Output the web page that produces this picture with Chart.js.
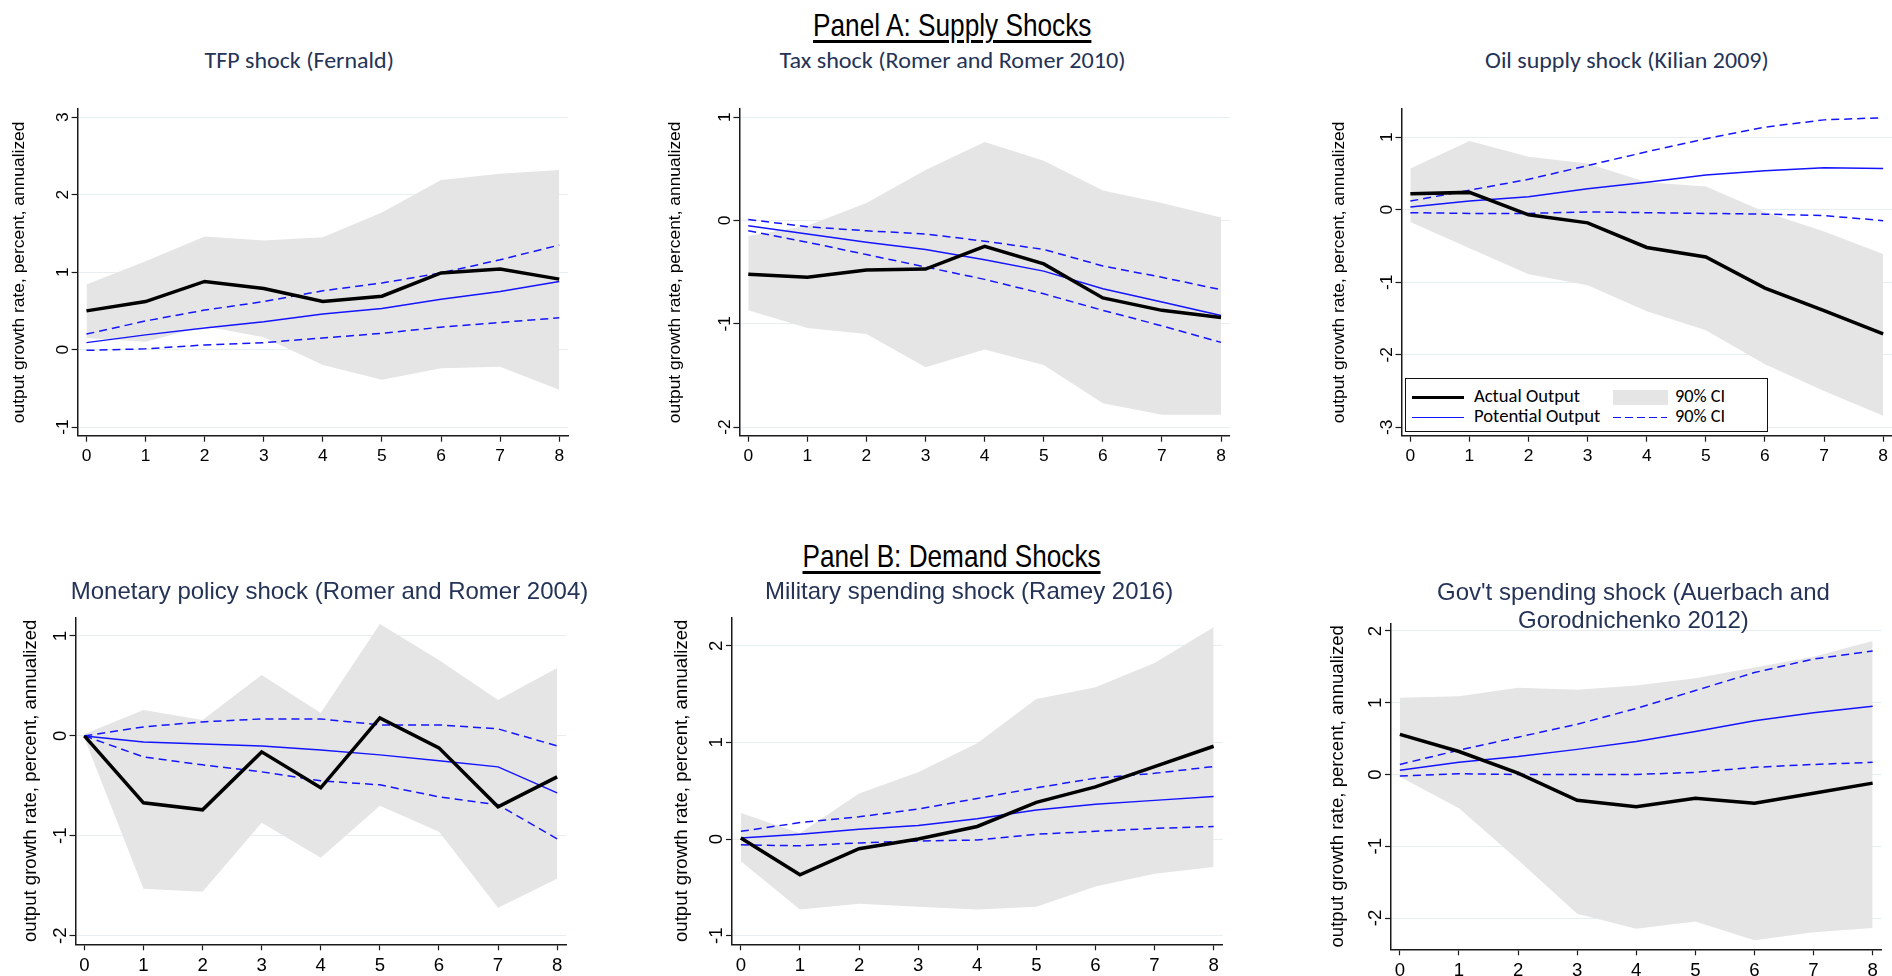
<!DOCTYPE html>
<html>
<head>
<meta charset="utf-8">
<script src="https://cdn.jsdelivr.net/npm/chart.js@4.4.1/dist/chart.umd.min.js"></script>
<style>
html,body{margin:0;padding:0;background:#fff}
body{position:relative;width:1892px;height:976px;overflow:hidden}
canvas{position:absolute}
.txt{position:absolute;white-space:nowrap;line-height:1.2}
#legend{position:absolute;left:1405px;top:378px;width:363px;height:54px;box-sizing:border-box;border:1.5px solid #111;background:#fff}
#legend div{position:absolute}
</style>
</head>
<body>
<script>
// horizons (quarters after the shock)
const horizon=[0,1,2,3,4,5,6,7,8];

// TFP shock (Fernald)
const tfpActual=[0.50,0.62,0.88,0.79,0.62,0.69,0.99,1.04,0.91];
const tfpPotential=[0.09,0.19,0.28,0.36,0.46,0.53,0.65,0.75,0.88];
const tfpCiHi=[0.20,0.37,0.51,0.62,0.76,0.86,0.99,1.16,1.35];
const tfpCiLo=[-0.01,0.01,0.06,0.09,0.15,0.21,0.29,0.35,0.41];
const tfpBandHi=[0.84,1.14,1.46,1.41,1.45,1.77,2.19,2.27,2.32];
const tfpBandLo=[0.15,0.10,0.30,0.16,-0.20,-0.39,-0.24,-0.22,-0.52];
const tfpTicks=[-1,0,1,2,3];

// Tax shock (Romer and Romer 2010)
const taxActual=[-0.52,-0.55,-0.48,-0.47,-0.25,-0.42,-0.75,-0.87,-0.94];
const taxPotential=[-0.05,-0.13,-0.21,-0.28,-0.38,-0.49,-0.66,-0.79,-0.92];
const taxCiHi=[0.01,-0.06,-0.10,-0.13,-0.20,-0.28,-0.44,-0.55,-0.67];
const taxCiLo=[-0.10,-0.21,-0.33,-0.45,-0.57,-0.71,-0.87,-1.02,-1.18];
const taxBandHi=[-0.15,-0.05,0.17,0.49,0.76,0.58,0.29,0.17,0.03];
const taxBandLo=[-0.87,-1.04,-1.10,-1.42,-1.25,-1.40,-1.77,-1.88,-1.88];
const taxTicks=[-2,-1,0,1];

// Oil supply shock (Kilian 2009)
const oilActual=[0.22,0.24,-0.07,-0.18,-0.52,-0.65,-1.08,-1.39,-1.71];
const oilPotential=[0.04,0.12,0.18,0.29,0.38,0.48,0.54,0.58,0.57];
const oilCiHi=[0.12,0.27,0.42,0.61,0.80,0.98,1.14,1.24,1.27];
const oilCiLo=[-0.04,-0.05,-0.05,-0.03,-0.04,-0.05,-0.06,-0.08,-0.15];
const oilBandHi=[0.57,0.95,0.73,0.64,0.38,0.32,-0.03,-0.30,-0.61];
const oilBandLo=[-0.17,-0.53,-0.89,-1.04,-1.40,-1.66,-2.13,-2.50,-2.84];
const oilTicks=[-3,-2,-1,0,1];

// Monetary policy shock (Romer and Romer 2004)
const monActual=[0,-0.67,-0.74,-0.16,-0.52,0.18,-0.12,-0.71,-0.41];
const monPotential=[0,-0.06,-0.08,-0.10,-0.14,-0.19,-0.25,-0.31,-0.57];
const monCiHi=[0,0.09,0.14,0.17,0.17,0.11,0.11,0.07,-0.10];
const monCiLo=[0,-0.21,-0.29,-0.36,-0.45,-0.49,-0.61,-0.69,-1.03];
const monBandHi=[0.02,0.26,0.16,0.61,0.23,1.12,0.76,0.36,0.68];
const monBandLo=[-0.02,-1.53,-1.56,-0.87,-1.22,-0.70,-0.96,-1.72,-1.43];
const monTicks=[-2,-1,0,1];

// Military spending shock (Ramey 2016)
const milActual=[0.01,-0.37,-0.10,0.00,0.13,0.38,0.54,0.75,0.96];
const milPotential=[0.01,0.05,0.10,0.14,0.21,0.30,0.36,0.40,0.44];
const milCiHi=[0.08,0.17,0.23,0.31,0.42,0.53,0.63,0.68,0.75];
const milCiLo=[-0.06,-0.07,-0.04,-0.02,-0.01,0.05,0.08,0.11,0.13];
const milBandHi=[0.27,0.06,0.47,0.69,0.99,1.45,1.57,1.82,2.19];
const milBandLo=[-0.23,-0.73,-0.67,-0.70,-0.73,-0.70,-0.49,-0.36,-0.29];
const milTicks=[-1,0,1,2];

// Gov't spending shock (Auerbach and Gorodnichenko 2012)
const govActual=[0.56,0.32,0.02,-0.36,-0.45,-0.33,-0.40,-0.26,-0.12];
const govPotential=[0.06,0.17,0.25,0.35,0.46,0.60,0.75,0.86,0.95];
const govCiHi=[0.14,0.34,0.52,0.70,0.92,1.17,1.42,1.61,1.72];
const govCiLo=[-0.02,0.01,0.00,0.00,0.00,0.03,0.10,0.14,0.17];
const govBandHi=[1.07,1.09,1.21,1.18,1.24,1.34,1.49,1.64,1.86];
const govBandLo=[-0.03,-0.47,-1.19,-1.94,-2.15,-2.05,-2.31,-2.20,-2.14];
const govTicks=[-2,-1,0,1,2];

const titles=['TFP shock (Fernald)','Tax shock (Romer and Romer 2010)','Oil supply shock (Kilian 2009)',
 'Monetary policy shock (Romer and Romer 2004)','Military spending shock (Ramey 2016)',
 ["Gov't spending shock (Auerbach and",'Gorodnichenko 2012)']];
const panelHeads=['Panel A: Supply Shocks','Panel B: Demand Shocks'];
const legendLabels=['Actual Output','Potential Output','90% CI','90% CI'];
const yTitle='output growth rate, percent, annualized';

const BLUE='#1414ff', GRAY='#e5e5e5', AXIS='#1a1a1a', GRID='#e7eef1', NAVY='#243356';
const ARIAL="'Liberation Sans', Arial, sans-serif";
const NARROW="'Liberation Sans Narrow','Arial Narrow','Liberation Sans',sans-serif";
const CAL="Carlito, Lato, 'Open Sans', sans-serif";

const panels=[
 {actual:tfpActual,potential:tfpPotential,ciHi:tfpCiHi,ciLo:tfpCiLo,bandHi:tfpBandHi,bandLo:tfpBandLo,ticks:tfpTicks,
  yMin:-1.112,yMax:3.107,left:77.6,top:109,bottom:435.7,titleOff:58,font:17.4},
 {actual:taxActual,potential:taxPotential,ciHi:taxCiHi,ciLo:taxCiLo,bandHi:taxBandHi,bandLo:taxBandLo,ticks:taxTicks,
  yMin:-2.084,yMax:1.08,left:739.4,top:109,bottom:435.7,titleOff:63.7,font:17.4},
 {actual:oilActual,potential:oilPotential,ciHi:oilCiHi,ciLo:oilCiLo,bandHi:oilBandHi,bandLo:oilBandLo,ticks:oilTicks,
  yMin:-3.116,yMax:1.39,left:1401.5,top:109,bottom:435.7,titleOff:62.5,font:17.4},
 {actual:monActual,potential:monPotential,ciHi:monCiHi,ciLo:monCiLo,bandHi:monBandHi,bandLo:monBandLo,ticks:monTicks,
  yMin:-2.086,yMax:1.187,left:75.5,top:617.3,bottom:944.3,titleOff:43.7,font:18.6},
 {actual:milActual,potential:milPotential,ciHi:milCiHi,ciLo:milCiLo,bandHi:milBandHi,bandLo:milBandLo,ticks:milTicks,
  yMin:-1.089,yMax:2.294,left:732,top:617.3,bottom:944.3,titleOff:49.8,font:18.6},
 {actual:govActual,potential:govPotential,ciHi:govCiHi,ciLo:govCiLo,bandHi:govBandHi,bandLo:govBandLo,ticks:govTicks,
  yMin:-2.436,yMax:2.107,left:1391,top:623.3,bottom:949.3,titleOff:52.4,font:18.6}
];
const PLOT_W=490.5, X_MIN=-0.15, X_MAX=8.15;

const pts=a=>a.map((v,i)=>({x:horizon[i],y:v}));

function makeChart(p){
 const cv=document.createElement('canvas');
 const cl=Math.floor(p.left-p.titleOff-14);
 const ct=Math.floor(p.top-15);
 const right=p.left+PLOT_W;
 const cw=Math.ceil(right+15-cl);
 const ch=Math.ceil(p.bottom+40-ct);
 cv.width=cw;cv.height=ch;
 cv.style.left=cl+'px';cv.style.top=ct+'px';
 cv.style.width=cw+'px';cv.style.height=ch+'px';
 document.body.appendChild(cv);
 const yw=p.left-cl, xh=ch-(p.bottom-ct);
 const none='rgba(0,0,0,0)';
 new Chart(cv,{
  type:'line',
  data:{datasets:[
   {data:pts(p.actual),borderColor:'#000',borderWidth:3.5},
   {data:pts(p.potential),borderColor:BLUE,borderWidth:1.5},
   {data:pts(p.ciHi),borderColor:BLUE,borderWidth:1.5,borderDash:[8,5]},
   {data:pts(p.ciLo),borderColor:BLUE,borderWidth:1.5,borderDash:[8,5]},
   {data:pts(p.bandHi),borderColor:none,borderWidth:0,backgroundColor:GRAY,fill:'+1'},
   {data:pts(p.bandLo),borderColor:none,borderWidth:0,fill:false}
  ]},
  options:{
   responsive:false,animation:false,devicePixelRatio:1,
   layout:{padding:{left:0,top:p.top-ct,right:cw-(right-cl),bottom:0}},
   plugins:{legend:{display:false},tooltip:{enabled:false}},
   elements:{point:{radius:0},line:{tension:0,fill:false,borderCapStyle:'butt'}},
   scales:{
    x:{type:'linear',min:X_MIN,max:X_MAX,
     afterBuildTicks:a=>{a.ticks=horizon.map(v=>({value:v}));},
     afterFit:s=>{s.height=xh;},
     grid:{drawOnChartArea:false,drawTicks:true,tickLength:6,tickColor:AXIS,tickWidth:1.2},
     border:{display:true,color:AXIS,width:1.5},
     ticks:{font:{family:ARIAL,size:p.font},color:'#000',padding:4,maxRotation:0,autoSkip:false}},
    y:{type:'linear',min:p.yMin,max:p.yMax,
     afterBuildTicks:a=>{a.ticks=p.ticks.map(v=>({value:v}));},
     afterFit:s=>{s.width=yw;},
     grid:{color:GRID,lineWidth:1,drawTicks:true,tickLength:6,tickColor:AXIS,tickWidth:1.2},
     border:{display:true,color:AXIS,width:1.5},
     ticks:{font:{family:ARIAL,size:p.font},color:'#000',padding:0.5,minRotation:90,maxRotation:90,crossAlign:'center',autoSkip:false},
     title:{display:true,text:yTitle,font:{family:ARIAL,size:p.font},color:'#000',padding:{top:14-0.6*p.font,bottom:0}}}
   }
  }
 });
}
panels.forEach(makeChart);

// text helpers
const mctx=document.createElement('canvas').getContext('2d');
function placeText(parent,txt,o){
 const el=document.createElement('div');
 el.className='txt';
 el.textContent=txt;
 el.style.fontFamily=o.family;el.style.fontSize=o.size+'px';el.style.color=o.color||'#000';
 if(o.underline){el.style.textDecoration='underline';el.style.textDecorationThickness='3px';el.style.textUnderlineOffset='4px';}
 parent.appendChild(el);
 mctx.font=o.size+'px '+o.family;
 const m=mctx.measureText(txt);
 const a=m.fontBoundingBoxAscent, d=m.fontBoundingBoxDescent;
 el.style.top=(o.baseline-((1.2*o.size-(a+d))/2+a))+'px';
 const w=el.offsetWidth;
 const s=o.w?o.w/w:1;
 if(o.align==='left'){
  el.style.left=o.x+'px';el.style.transformOrigin='0 0';
 }else{
  el.style.left=(o.x-w/2)+'px';el.style.transformOrigin='50% 0';
 }
 el.style.transform='scaleX('+s+')';
 return el;
}

const B=document.body;
placeText(B,panelHeads[0],{x:952,baseline:36,family:NARROW,size:31.7,w:278,underline:true});
placeText(B,panelHeads[1],{x:951,baseline:567,family:NARROW,size:31.7,w:298,underline:true});
placeText(B,titles[0],{x:299,baseline:68.5,family:CAL,size:21.6,w:189,color:NAVY});
placeText(B,titles[1],{x:952,baseline:68.5,family:CAL,size:21.6,w:346,color:NAVY});
placeText(B,titles[2],{x:1627,baseline:68.5,family:CAL,size:21.6,w:284,color:NAVY});
placeText(B,titles[3],{x:329.7,baseline:600,family:ARIAL,size:24,color:NAVY});
placeText(B,titles[4],{x:969,baseline:599.5,family:ARIAL,size:24,color:NAVY});
placeText(B,titles[5][0],{x:1633.5,baseline:601,family:ARIAL,size:24,color:NAVY});
placeText(B,titles[5][1],{x:1633.5,baseline:628.5,family:ARIAL,size:24,color:NAVY});

// legend of the oil panel
const lg=document.createElement('div');
lg.id='legend';
B.appendChild(lg);
function swatch(l,t,w,h,bg){
 const d=document.createElement('div');
 d.style.left=l+'px';d.style.top=t+'px';d.style.width=w+'px';d.style.height=h+'px';d.style.background=bg;
 lg.appendChild(d);
}
swatch(5.5,16.8,52.5,3.4,'#000');
swatch(5.5,37.5,52.5,1.5,BLUE);
swatch(206.5,11,55,14.5,GRAY);
swatch(206.5,37.5,54,1.5,'repeating-linear-gradient(to right,'+BLUE+' 0 8px,transparent 8px 12px)');
placeText(lg,legendLabels[0],{x:68,baseline:24,family:CAL,size:17.8,w:105.5,align:'left'});
placeText(lg,legendLabels[1],{x:68,baseline:44,family:CAL,size:17.8,w:126,align:'left'});
placeText(lg,legendLabels[2],{x:268.5,baseline:24,family:CAL,size:17.8,w:50.5,align:'left'});
placeText(lg,legendLabels[3],{x:268.5,baseline:44,family:CAL,size:17.8,w:50.5,align:'left'});
</script>
</body>
</html>
